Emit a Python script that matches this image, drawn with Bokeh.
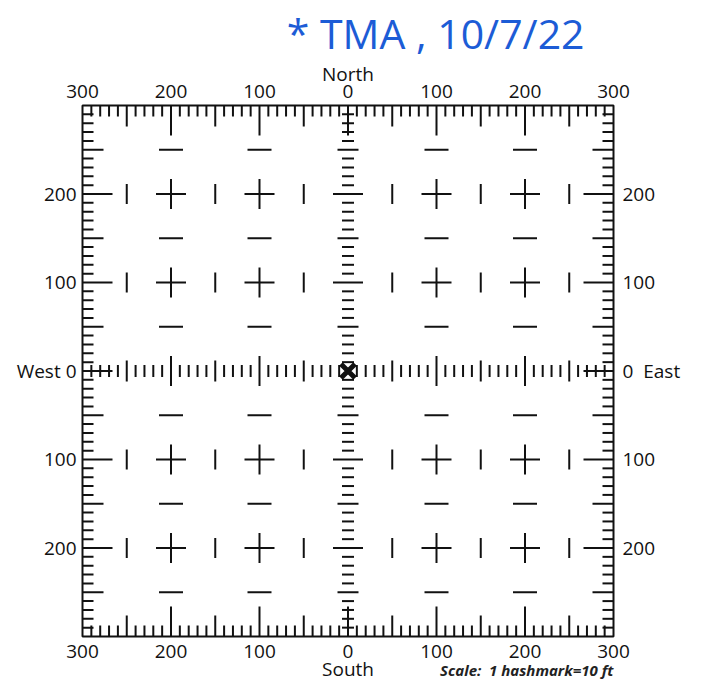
import numpy as np
from bokeh.plotting import figure
from bokeh.models import Range1d
from bokeh.core.properties import value
from bokeh.embed import file_html
from bokeh.resources import INLINE

# ---------------- data ----------------
extent = 300                      # field runs -300..300 in each direction (ft)
hash_positions = [v for v in range(-290, 300, 10)]   # 1 hashmark = 10 ft
cross_x = [-200, -100, 100, 200]
cross_y = [-200, -100, 100, 200]
bar_x = [-250, -150, -50, 50, 150, 250]
bar_y = [-200, -100, 100, 200]
dash_x = [-200, -100, 100, 200]
dash_y = [-250, -150, -50, 50, 150, 250]
x_tick_values = [-300, -200, -100, 0, 100, 200, 300]
x_tick_labels = ["300", "200", "100", "0", "100", "200", "300"]
y_tick_values = [200, 100, 0, -100, -200]
left_tick_labels = ["200", "100", "West 0", "100", "200"]
right_tick_labels = ["200", "100", "0\u00a0\u00a0East", "100", "200"]
north_label = "North"
south_label = "South"
scale_label = "Scale:\u00a0 1 hashmark=10 ft"
note_label = "* TMA , 10/7/22"
origin_x = [0]
origin_y = [0]

# ---------------- geometry ----------------
W, H = 718, 686
S = 0.885                     # pixels per foot
frame_left_px, frame_top_px = 82, 105
x0 = -extent - frame_left_px / S
x1 = x0 + W / S
y1 = extent + frame_top_px / S
y0 = y1 - H / S

FONT = value("Open Sans")

p = figure(width=W, height=H, output_backend="svg", toolbar_location=None,
           x_range=Range1d(x0, x1), y_range=Range1d(y0, y1),
           x_axis_location=None, y_axis_location=None, min_border=0)
p.grid.visible = False
p.outline_line_color = None
p.background_fill_color = "white"
p.border_fill_color = "white"


def edge_len(v):
    if v % 100 == 0:
        return 30 / S
    if v % 50 == 0:
        return 21 / S
    return 11 / S


def center_len(v):
    if v % 100 == 0:
        return 30 / S
    if v % 50 == 0:
        return 21 / S
    return 12 / S


hp = np.array(hash_positions, dtype=float)
el = np.array([edge_len(v) for v in hash_positions])
cl = np.array([center_len(v) for v in hash_positions])
nz = hp != 0

seg_kw = dict(line_color="#111111", line_width=2)
# frame edge ticks
p.segment(x0=hp, y0=np.full_like(hp, extent), x1=hp, y1=extent - el, **seg_kw)
p.segment(x0=hp, y0=np.full_like(hp, -extent), x1=hp, y1=-extent + el, **seg_kw)
p.segment(x0=np.full_like(hp, -extent), y0=hp, x1=-extent + el, y1=hp, **seg_kw)
p.segment(x0=np.full_like(hp, extent), y0=hp, x1=extent - el, y1=hp, **seg_kw)
# centre axes ticks
p.segment(x0=hp[nz], y0=-cl[nz] / 2, x1=hp[nz], y1=cl[nz] / 2, **seg_kw)
p.segment(x0=-cl[nz] / 2, y0=hp[nz], x1=cl[nz] / 2, y1=hp[nz], **seg_kw)

# crosses
cx, cy = np.meshgrid(cross_x, cross_y)
cx, cy = cx.ravel().astype(float), cy.ravel().astype(float)
arm = 15 / S
p.segment(x0=cx - arm, y0=cy, x1=cx + arm, y1=cy, **seg_kw)
p.segment(x0=cx, y0=cy - arm, x1=cx, y1=cy + arm, **seg_kw)
# vertical bars
bx, by = np.meshgrid(bar_x, bar_y)
bx, by = bx.ravel().astype(float), by.ravel().astype(float)
bh = 10 / S
p.segment(x0=bx, y0=by - bh, x1=bx, y1=by + bh, **seg_kw)
# horizontal dashes
dx, dy = np.meshgrid(dash_x, dash_y)
dx, dy = dx.ravel().astype(float), dy.ravel().astype(float)
dw = 12 / S
p.segment(x0=dx - dw, y0=dy, x1=dx + dw, y1=dy, **seg_kw)

# frame
p.quad(left=[-extent], right=[extent], bottom=[-extent], top=[extent],
       fill_color=None, line_color="#111111", line_width=2)

# origin marker
p.scatter(x=origin_x, y=origin_y, marker="x", size=20, line_width=5,
          line_color="#111111")

txt = dict(text_font=FONT, text_font_size="19px", text_color="#111111")
# top / bottom labels
p.text(x=x_tick_values, y=[extent] * 7, text=x_tick_labels, text_align="center",
       text_baseline="middle", y_offset=-14, **txt)
p.text(x=x_tick_values, y=[-extent] * 7, text=x_tick_labels, text_align="center",
       text_baseline="middle", y_offset=15, **txt)
p.text(x=[0], y=[extent], text=[north_label], text_align="center",
       text_baseline="middle", y_offset=-32, **txt)
p.text(x=[0], y=[-extent], text=[south_label], text_align="center",
       text_baseline="middle", y_offset=32, **txt)
# left / right labels
p.text(x=[-extent] * 5, y=y_tick_values, text=left_tick_labels, text_align="right",
       text_baseline="middle", x_offset=-6, **txt)
p.text(x=[extent] * 5, y=y_tick_values, text=right_tick_labels, text_align="left",
       text_baseline="middle", x_offset=9, **txt)
# scale note
p.text(x=[202], y=[-extent], text=[scale_label], text_align="center",
       text_baseline="middle", y_offset=33, text_font=FONT, text_font_size="15px",
       text_font_style="bold italic", text_color="#222222")
# handwritten note
p.text(x=[99], y=[extent], text=[note_label], text_align="center",
       text_baseline="middle", y_offset=-73, text_font=FONT, text_font_size="41px",
       text_color="#1c5cd6")

open("out.html", "w").write(file_html(p, INLINE))
